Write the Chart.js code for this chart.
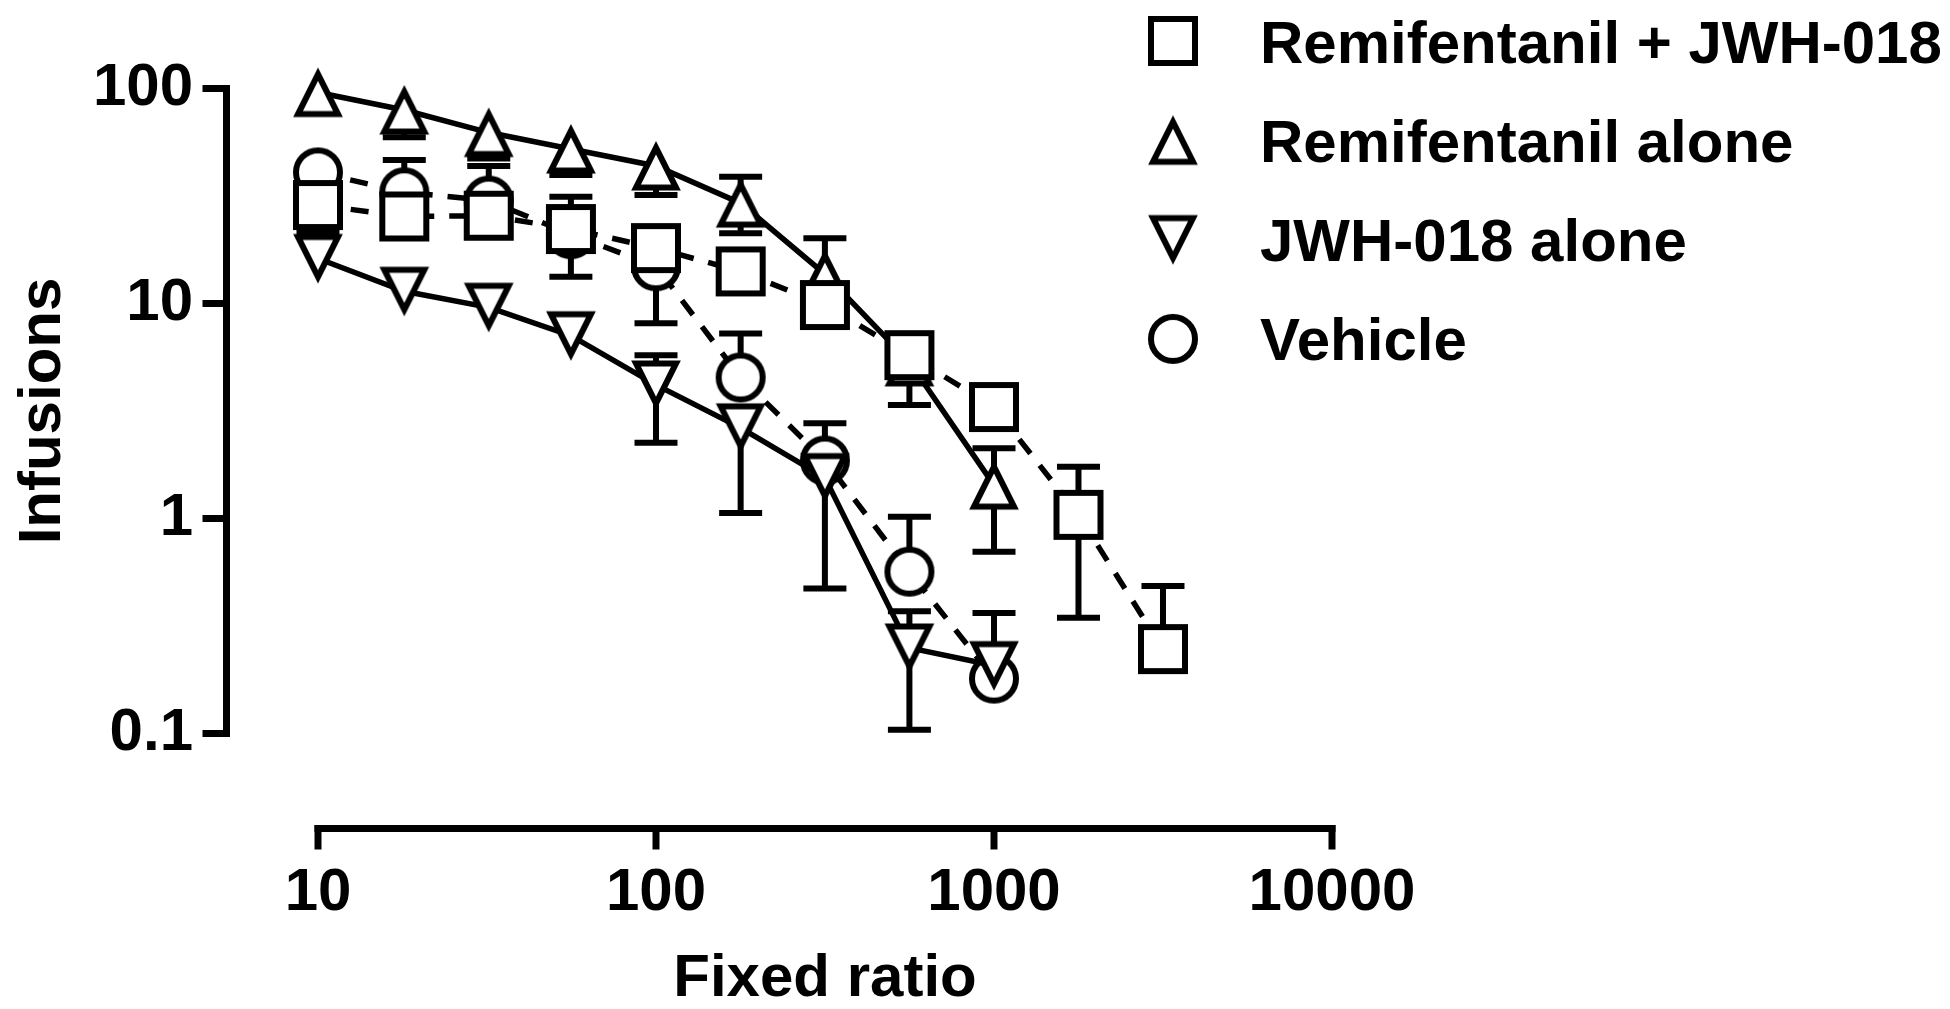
<!DOCTYPE html>
<html>
<head>
<meta charset="utf-8">
<script src="https://cdn.jsdelivr.net/npm/chart.js@4"></script>
<style>
  html, body { margin: 0; padding: 0; background: #fff; }
  #wrap { width: 1950px; height: 1009px; position: relative; }
  canvas { display: block; }
</style>
</head>
<body>
<div id="wrap"><canvas id="c"></canvas></div>
<script>
// ---------------- data ----------------
const fixedRatio = [10, 18, 32, 56, 100, 178, 316, 562, 1000, 1778, 3162];
const xTicks = [10, 100, 1000, 10000];
const yTicks = [0.1, 1, 10, 100];

const seriesLabels = ['Remifentanil + JWH-018', 'Remifentanil alone', 'JWH-018 alone', 'Vehicle'];

const remiJwh   = [28.7, 25.4, 25.6, 22.2, 18.1, 14.1, 9.84, 5.75, 3.3, 1.04, 0.247];
const remiJwhHi = [null, null, null, 31.4, null, null, null, null, null, 1.74, 0.485];
const remiJwhLo = [null, null, null, 13.3, null, null, null, null, null, 0.345, null];

const remiAlone   = [95.8, 79.4, 62.4, 52.3, 43.6, 29.3, 13.7, 5.35, 1.43];
const remiAloneHi = [null, null, null, null, null, 38.9, 20.1, null, 2.12];
const remiAloneLo = [null, 59.4, 47.3, 39.6, 32.0, 21.2, null, 3.37, 0.70];

const jwhAlone   = [16.2, 11.4, 9.6, 7.08, 4.18, 2.64, 1.55, 0.25, 0.207];
const jwhAloneHi = [21.5, null, null, null, 5.75, null, null, 0.37, 0.363];
const jwhAloneLo = [null, null, null, null, 2.25, 1.06, 0.473, 0.104, null];

const vehicle   = [40.7, 32.9, 30.1, 21.0, 14.9, 4.53, 1.86, 0.566, 0.18];
const vehicleHi = [null, 46.5, 43.6, null, null, 7.26, 2.77, 1.02, null];
const vehicleLo = [null, null, null, null, 8.1, null, null, null, null];

// ---------------- styling ----------------
const FONT = '"Liberation Sans", Arial, Helvetica, sans-serif';
const INK = '#000';

function makeMarker(kind) {
  const S = 64, m = S / 2;
  const c = document.createElement('canvas');
  c.width = S; c.height = S;
  const g = c.getContext('2d');
  g.lineWidth = 6; g.strokeStyle = INK; g.fillStyle = '#fff'; g.lineJoin = 'miter';
  g.beginPath();
  if (kind === 'square') {
    g.rect(m - 22, m - 22, 44, 44);
  } else if (kind === 'circle') {
    g.arc(m, m, 22, 0, Math.PI * 2);
  } else if (kind === 'up') {
    const a = m - 18.4;
    g.moveTo(m, a); g.lineTo(m + 20, a + 40); g.lineTo(m - 20, a + 40); g.closePath();
  } else {
    const a = m + 18.4;
    g.moveTo(m, a); g.lineTo(m + 20, a - 40); g.lineTo(m - 20, a - 40); g.closePath();
  }
  g.fill(); g.stroke();
  return c;
}
const markers = { square: makeMarker('square'), up: makeMarker('up'), down: makeMarker('down'), circle: makeMarker('circle') };

function toPoints(vals) { return vals.map((v, i) => ({ x: fixedRatio[i], y: v })); }

function ds(label, vals, hi, lo, marker, dashed) {
  return {
    label, data: toPoints(vals), errHi: hi, errLo: lo,
    borderColor: INK, backgroundColor: '#fff', borderWidth: 5.5,
    borderDash: dashed ? [18, 15] : [], borderCapStyle: 'butt',
    pointStyle: marker, pointRadius: 25, pointHoverRadius: 25,
    tension: 0, fill: false, clip: false
  };
}

// ---------------- plugins ----------------
const errorBars = {
  id: 'errorBars',
  beforeDatasetDraw(chart, args) {
    const d = chart.data.datasets[args.index];
    const xs = chart.scales.x, ys = chart.scales.y, ctx = chart.ctx;
    ctx.save();
    ctx.strokeStyle = INK; ctx.lineWidth = 6; ctx.lineCap = 'butt';
    d.data.forEach((p, i) => {
      const x = xs.getPixelForValue(p.x), y = ys.getPixelForValue(p.y);
      [d.errHi[i], d.errLo[i]].forEach(e => {
        if (e == null) return;
        const ye = ys.getPixelForValue(e);
        ctx.beginPath();
        ctx.moveTo(x, y); ctx.lineTo(x, ye);
        ctx.moveTo(x - 21.5, ye); ctx.lineTo(x + 21.5, ye);
        ctx.stroke();
      });
    });
    ctx.restore();
  }
};

const Y_AXIS_GAP = 91.5;  // y axis line sits left of the first x tick
const X_AXIS_GAP = 95;    // x axis line sits below the lowest y tick
const axesPlugin = {
  id: 'prismAxes',
  beforeDatasetsDraw(chart) {
    const { ctx } = chart, xs = chart.scales.x, ys = chart.scales.y;
    ctx.save();
    ctx.strokeStyle = INK; ctx.lineWidth = 7; ctx.lineCap = 'butt';
    // y axis
    const ax = xs.getPixelForValue(xTicks[0]) - Y_AXIS_GAP;
    const yTop = ys.getPixelForValue(yTicks[yTicks.length - 1]);
    const yBot = ys.getPixelForValue(yTicks[0]);
    ctx.beginPath(); ctx.moveTo(ax, yTop - 3.5); ctx.lineTo(ax, yBot + 3.5); ctx.stroke();
    yTicks.forEach(v => {
      const y = ys.getPixelForValue(v);
      ctx.beginPath(); ctx.moveTo(ax - 24, y); ctx.lineTo(ax + 3.5, y); ctx.stroke();
    });
    // x axis
    const ay = yBot + X_AXIS_GAP;
    const xL = xs.getPixelForValue(xTicks[0]);
    const xR = xs.getPixelForValue(xTicks[xTicks.length - 1]);
    ctx.beginPath(); ctx.moveTo(xL - 3.5, ay); ctx.lineTo(xR + 3.5, ay); ctx.stroke();
    xTicks.forEach(v => {
      const x = xs.getPixelForValue(v);
      ctx.beginPath(); ctx.moveTo(x, ay - 3.5); ctx.lineTo(x, ay + 21); ctx.stroke();
    });
    ctx.restore();
  }
};

const legendPlugin = {
  id: 'prismLegend',
  afterDraw(chart) {
    const ctx = chart.ctx;
    const LEG_X = 1173, LEG_TOP = 41, LEG_STEP = 99.3, TEXT_X = 1260;
    ctx.save();
    ctx.font = 'bold 60px ' + FONT;
    ctx.fillStyle = INK; ctx.textAlign = 'left'; ctx.textBaseline = 'alphabetic';
    chart.data.datasets.forEach((d, k) => {
      const cy = LEG_TOP + k * LEG_STEP;
      const mk = d.pointStyle;
      ctx.drawImage(mk, LEG_X - mk.width / 2, cy - mk.height / 2);
      ctx.fillText(d.label, TEXT_X, cy + 21.5);
    });
    ctx.restore();
  }
};

// ---------------- chart ----------------
const tickFont = { family: FONT, size: 60, weight: 'bold', lineHeight: 1 };

new Chart(document.getElementById('c'), {
  type: 'line',
  data: {
    datasets: [
      ds(seriesLabels[0], remiJwh, remiJwhHi, remiJwhLo, markers.square, true),
      ds(seriesLabels[1], remiAlone, remiAloneHi, remiAloneLo, markers.up, false),
      ds(seriesLabels[2], jwhAlone, jwhAloneHi, jwhAloneLo, markers.down, false),
      ds(seriesLabels[3], vehicle, vehicleHi, vehicleLo, markers.circle, true)
    ]
  },
  options: {
    responsive: true,
    maintainAspectRatio: false,
    animation: false,
    events: [],
    layout: { padding: { top: 88.5, right: 618, bottom: 0, left: 0 }, autoPadding: false },
    plugins: { legend: { display: false }, tooltip: { enabled: false } },
    scales: {
      x: {
        type: 'logarithmic', position: 'bottom', min: 10, max: 10000,
        afterBuildTicks: s => { s.ticks = xTicks.map(v => ({ value: v })); },
        afterFit: s => { s.height = 275.5; s.paddingLeft = 0; s.paddingRight = 0; s.paddingTop = 0; s.paddingBottom = 0; },
        grid: { display: false, drawTicks: false },
        border: { display: false },
        ticks: { color: INK, font: tickFont, padding: 130, autoSkip: false, maxRotation: 0,
                 callback: v => String(v) },
        title: { display: true, text: 'Fixed ratio', color: INK, font: tickFont,
                 padding: { top: 0, bottom: 0 } }
      },
      y: {
        type: 'logarithmic', position: 'left', min: 0.1, max: 100,
        afterBuildTicks: s => { s.ticks = yTicks.map(v => ({ value: v })); },
        afterFit: s => { s.width = 318; s.paddingLeft = 0; s.paddingRight = 0; s.paddingTop = 0; s.paddingBottom = 0; },
        grid: { display: false, drawTicks: false },
        border: { display: false },
        ticks: { color: INK, font: tickFont, padding: 125, autoSkip: false,
                 callback: v => String(v) },
        title: { display: true, text: 'Infusions', color: INK, font: tickFont,
                 padding: { top: 13.5, bottom: 0 } }
      }
    }
  },
  plugins: [errorBars, axesPlugin, legendPlugin]
});
</script>
</body>
</html>
